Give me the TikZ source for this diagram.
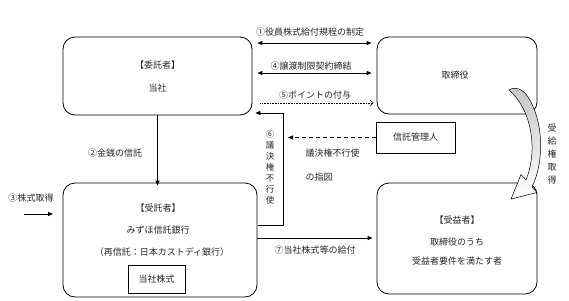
\documentclass[tikz,border=0pt]{standalone}
\usepackage{fontspec}
\newfontfamily\jp{Noto Sans CJK JP}
\usetikzlibrary{arrows.meta, positioning, calc}

\tikzset{
  party/.style={draw, rounded corners=12pt, line width=0.8pt},
  plainbox/.style={draw, line width=0.8pt, inner sep=0pt},
  flow/.style={line width=0.9pt, -{Triangle[length=5pt,width=4pt]}},
  both/.style={line width=0.9pt, {Triangle[length=5pt,width=4pt]}-{Triangle[length=5pt,width=4pt]}},
  points/.style={line width=0.6pt, densely dotted, -{Straight Barb[length=3pt,width=6pt]}},
  order/.style={line width=0.8pt, dash pattern=on 4pt off 3pt, -{Triangle[length=5pt,width=4pt]}},
  tate/.style={align=center, inner sep=0pt}
}

\begin{document}
\begin{tikzpicture}[x=1pt, y=-1pt, font=\jp\fontsize{9}{11}\selectfont, text=black!85]
    \useasboundingbox (0,0) rectangle (569,300);

    % Boxes
    \node[party, minimum width=189pt, minimum height=78pt] (itaku) at (157.5,76) {};
    \node[party, minimum width=160pt, minimum height=77pt] (torishimari) at (457,75.5) {};
    \node[party, minimum width=194pt, minimum height=114pt] (jutaku) at (160,240) {};
    \node[party, minimum width=160pt, minimum height=111pt] (jueki) at (457,238.5) {};
    \node[plainbox, minimum width=79pt, minimum height=31pt] (kanri) at (415.5,137.5) {信託管理人};
    \node[plainbox, minimum width=57pt, minimum height=28pt] (kabu) at (156.5,279) {当社株式};

    % Texts in boxes
    \node (itakutitle) at (157.5,65) {【委託者】};
    \node (itakuname) at (157.5,88) {当社};
    \node (torishimariname) at (455,75) {取締役};
    \node (jutakutitle) at (158,208) {【受託者】};
    \node (jutakuname) at (158,230) {みずほ信託銀行};
    \node (jutakusub) at (162,252) {（再信託：日本カストディ銀行）};
    \node (juekititle) at (457,220) {【受益者】};
    \node (juekiline1) at (457,242) {取締役のうち};
    \node (juekiline2) at (457,261) {受益者要件を満たす者};

    % Arrows between Trustor and Directors
    \draw[both] ([xshift=5pt]itaku.east |- 0,43) -- ([xshift=-5pt]torishimari.west |- 0,43);
    \node (kitei) at (310,32) {①役員株式給付規程の制定};
    \draw[both] ([xshift=5pt]itaku.east |- 0,73) -- ([xshift=-5pt]torishimari.west |- 0,73);
    \node (keiyaku) at (311,66) {④譲渡制限契約締結};
    \draw[points] ([xshift=8pt]itaku.east |- 0,103) -- ([xshift=-3pt]torishimari.west |- 0,103);
    \node (point) at (315,95) {⑤ポイントの付与};

    % Voting rights
    \coordinate (votebend) at (283,113);
    \draw[flow, line width=0.8pt] ([xshift=1pt]jutaku.east |- 0,225) -| (votebend) -- ([xshift=3pt]itaku.east |- votebend);
    \node[tate, font=\jp\fontsize{8.5}{11}\selectfont] (vote) at (270,167) {⑥\\議\\決\\権\\不\\行\\使};
    \coordinate (ordertip) at (288,137);
    \draw[order] (kanri.west) -- (ordertip |- kanri.west);
    \node[anchor=west] (order1) at (302,153) {議決権不行使};
    \node[anchor=west] (order2) at (302,177) {の指図};

    % Money and shares
    \draw[flow] (itaku.south) -- ([yshift=-3pt]itaku.south |- jutaku.north);
    \node (kinsen) at (115,153) {②金銭の信託};
    \coordinate (buyfrom) at (24,214);
    \coordinate (buyto) at (53,214);
    \draw[flow] (buyfrom) -- (buyto);
    \node (shutoku) at (31,198) {③株式取得};
    \draw[flow] (jutaku.east |- 0,238) -- ([xshift=-4pt]jueki.west |- 0,238);
    \node (kyufu) at (315,250) {⑦当社株式等の給付};

    % Entitlement
    \draw[line width=0.5pt, top color=gray!45, bottom color=white]
        (509,90) .. controls (515,86) and (523,89) .. (528,97)
        .. controls (543,120) and (545,160) .. (532,187)
        -- (537,192.5) -- (511,199) -- (521,174.5) -- (526,180)
        .. controls (538,150) and (532,110) .. cycle;
    \node[tate, font=\jp\fontsize{9}{13}\selectfont] (jukyuken) at (552,154) {受\\給\\権\\取\\得};
\end{tikzpicture}
\end{document}
